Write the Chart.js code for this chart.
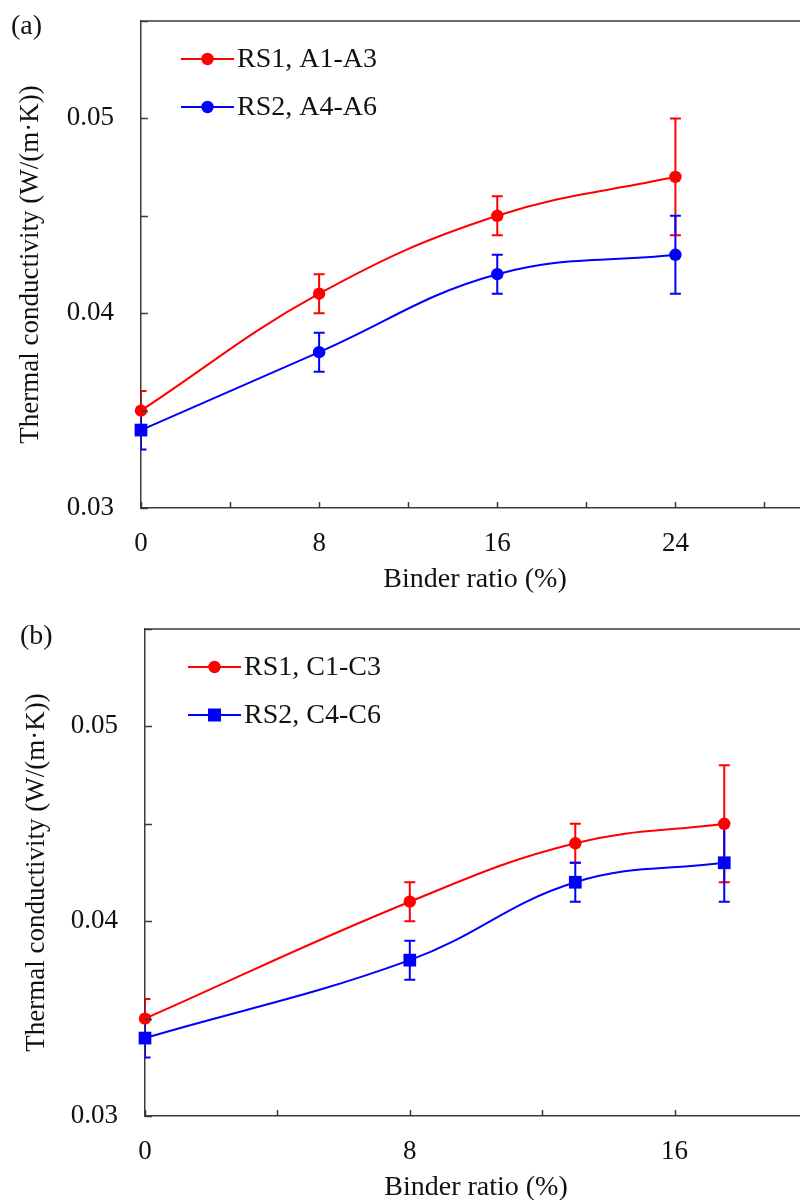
<!DOCTYPE html>
<html>
<head>
<meta charset="utf-8">
<script src="https://cdn.jsdelivr.net/npm/chart.js@4.4.1/dist/chart.umd.min.js"></script>
<style>
  html, body { margin: 0; padding: 0; background: #fff; overflow: hidden; width: 800px; height: 1200px; }
  canvas { display: block; }
</style>
</head>
<body>
<canvas id="chartA" width="830" height="600"></canvas>
<canvas id="chartC" width="830" height="610"></canvas>
<script>
// ---- Panel (a): binder ratio vs thermal conductivity, A-series ----
const binderA = [0, 8, 16, 24];
const rs1A = [0.035, 0.041, 0.045, 0.047];
const rs1AErr = [0.001, 0.001, 0.001, 0.003];
const rs2A = [0.034, 0.038, 0.042, 0.043];
const rs2AErr = [0.001, 0.001, 0.001, 0.002];

// ---- Panel (b): C-series ----
const binderC = [0, 8, 13, 17.5];
const rs1C = [0.035, 0.041, 0.044, 0.045];
const rs1CErr = [0.001, 0.001, 0.001, 0.003];
const rs2C = [0.034, 0.038, 0.042, 0.043];
const rs2CErr = [0.001, 0.001, 0.001, 0.002];

// ---- Axis ticks and labels ----
const xTicksA = [0, 4, 8, 12, 16, 20, 24, 28];
const xLabelsA = ['0', '', '8', '', '16', '', '24', ''];
const xTicksC = [0, 4, 8, 12, 16, 20];
const xLabelsC = ['0', '', '8', '', '16', ''];
const yTicks = [0.03, 0.035, 0.04, 0.045, 0.05, 0.055];
const yLabels = ['0.03', '', '0.04', '', '0.05', ''];

const seriesNamesA = ['RS1, A1-A3', 'RS2, A4-A6'];
const seriesNamesC = ['RS1, C1-C3', 'RS2, C4-C6'];
const axisTitleX = 'Binder ratio (%)';
const axisTitleY = 'Thermal conductivity (W/(m\u00B7K))';

const RED = '#ff0000';
const BLUE = '#0000ff';
const INK = '#111111';
const FRAME = '#3a3a3a';
const FONT = 'Liberation Serif, "Times New Roman", serif';

const toPoints = (xs, ys) => xs.map((x, i) => ({ x: x, y: ys[i] }));

// Vertical error bars, clipped to the plot area, drawn beneath lines and markers
const errorBarPlugin = {
  id: 'errorBars',
  beforeDatasetsDraw(chart) {
    const { ctx, chartArea: a, scales: { x, y } } = chart;
    ctx.save();
    ctx.beginPath();
    ctx.rect(a.left, a.top, a.right - a.left, a.bottom - a.top);
    ctx.clip();
    chart.data.datasets.forEach(ds => {
      if (!ds.errors) return;
      ctx.strokeStyle = ds.borderColor;
      ctx.lineWidth = 2;
      ds.data.forEach((p, i) => {
        const e = ds.errors[i];
        const px = x.getPixelForValue(p.x);
        const yt = y.getPixelForValue(p.y + e);
        const yb = y.getPixelForValue(p.y - e);
        ctx.beginPath();
        ctx.moveTo(px, yt); ctx.lineTo(px, yb);
        ctx.moveTo(px - 5.5, yt); ctx.lineTo(px + 5.5, yt);
        ctx.moveTo(px - 5.5, yb); ctx.lineTo(px + 5.5, yb);
        ctx.stroke();
      });
    });
    ctx.restore();
  }
};

// Inward tick marks, top frame line, in-plot legend and panel letter
const framePlugin = {
  id: 'frame',
  afterDraw(chart, args, opts) {
    const { ctx, chartArea: a, scales: { x, y } } = chart;
    ctx.save();
    ctx.strokeStyle = FRAME;
    ctx.lineWidth = 1.5;
    ctx.beginPath();
    ctx.moveTo(a.left, a.top); ctx.lineTo(a.right + 2, a.top);
    x.ticks.forEach((t, i) => {
      const px = Math.round(x.getPixelForTick(i)) + 0.5;
      ctx.moveTo(px, a.bottom); ctx.lineTo(px, a.bottom - 6);
    });
    y.ticks.forEach((t, i) => {
      const py = Math.round(y.getPixelForTick(i)) + 0.5;
      ctx.moveTo(a.left, py); ctx.lineTo(a.left + 7, py);
    });
    ctx.stroke();

    // legend: short line with marker, then the series name
    ctx.font = '28px ' + FONT;
    ctx.textBaseline = 'middle';
    chart.data.datasets.forEach((ds, i) => {
      const lx = a.left + opts.legendX;
      const ly = a.top + opts.legendY + i * opts.legendGap;
      ctx.strokeStyle = ds.borderColor;
      ctx.lineWidth = 2;
      ctx.beginPath();
      ctx.moveTo(lx, ly); ctx.lineTo(lx + 53, ly);
      ctx.stroke();
      ctx.fillStyle = ds.borderColor;
      ctx.beginPath();
      if (opts.legendStyles[i] === 'rect') {
        ctx.rect(lx + 26.5 - 6.5, ly - 6.5, 13, 13);
      } else {
        ctx.arc(lx + 26.5, ly, 6.2, 0, Math.PI * 2);
      }
      ctx.fill();
      ctx.fillStyle = INK;
      ctx.fillText(ds.label, lx + 56, ly + 1);
    });

    ctx.font = '28px ' + FONT;
    ctx.textBaseline = 'middle';
    ctx.fillStyle = INK;
    ctx.fillText(opts.panel, opts.panelX, opts.panelY);
    ctx.restore();
  }
};

function makeChart(id, cfg) {
  const lineDataset = (label, xs, ys, errs, color, styles, radii) => ({
    label: label,
    data: toPoints(xs, ys),
    errors: errs,
    borderColor: color,
    backgroundColor: color,
    pointBackgroundColor: color,
    pointBorderColor: color,
    pointBorderWidth: 0,
    pointStyle: styles,
    pointRadius: radii,
    borderWidth: 2,
    tension: 0.4,
    clip: false
  });
  return new Chart(document.getElementById(id), {
    type: 'line',
    data: {
      datasets: [
        lineDataset(cfg.names[0], cfg.xs, cfg.s1, cfg.e1, RED, 'circle', 6.2),
        lineDataset(cfg.names[1], cfg.xs, cfg.s2, cfg.e2, BLUE, cfg.blueStyles, cfg.blueRadii)
      ]
    },
    options: {
      responsive: false,
      animation: false,
      events: [],
      layout: { padding: { top: cfg.top, right: cfg.right, left: 0, bottom: 0 } },
      plugins: {
        legend: { display: false },
        tooltip: { enabled: false },
        frame: {
          panel: cfg.panel, panelX: cfg.panelX, panelY: cfg.panelY,
          legendX: cfg.legendX, legendY: 38, legendGap: 48,
          legendStyles: cfg.legendStyles
        }
      },
      scales: {
        x: {
          type: 'linear',
          min: 0,
          max: cfg.xMax,
          afterBuildTicks: s => { s.ticks = cfg.xTicks.map(v => ({ value: v })); },
          afterFit: s => { s.height = cfg.xHeight; s.paddingLeft = 0; s.paddingRight = 0; },
          grid: { display: false },
          border: { display: true, color: FRAME, width: 1.5 },
          ticks: {
            autoSkip: false, maxRotation: 0, padding: 12,
            color: INK, font: { family: FONT, size: 27 },
            callback: (v, i) => cfg.xLabels[i]
          },
          title: {
            display: true, text: axisTitleX, color: INK,
            font: { family: FONT, size: 28 },
            padding: { top: 0, bottom: cfg.xTitlePad }
          }
        },
        y: {
          type: 'linear',
          min: 0.03,
          max: 0.055,
          afterBuildTicks: s => { s.ticks = yTicks.map(v => ({ value: v })); },
          afterFit: s => { s.width = cfg.yWidth; s.paddingTop = 0; s.paddingBottom = 0; },
          grid: { display: false },
          border: { display: true, color: FRAME, width: 1.5 },
          ticks: {
            autoSkip: false, padding: 19,
            color: INK, font: { family: FONT, size: 27 },
            callback: (v, i) => yLabels[i]
          },
          title: {
            display: true, text: axisTitleY, color: INK,
            font: { family: FONT, size: 27 },
            padding: { top: cfg.yTitlePad, bottom: 0 }
          }
        }
      }
    },
    plugins: [errorBarPlugin, framePlugin]
  });
}

makeChart('chartA', {
  names: seriesNamesA, xs: binderA,
  s1: rs1A, e1: rs1AErr, s2: rs2A, e2: rs2AErr,
  blueStyles: ['rect', 'circle', 'circle', 'circle'],
  blueRadii: [9, 6.2, 6.2, 6.2],
  legendStyles: ['circle', 'circle'],
  xTicks: xTicksA, xLabels: xLabelsA, xMax: 30,
  top: 21, right: 21, xHeight: 92, yWidth: 141,
  xTitlePad: 4, yTitlePad: 15, legendX: 40,
  panel: '(a)', panelX: 11, panelY: 27
});

makeChart('chartC', {
  names: seriesNamesC, xs: binderC,
  s1: rs1C, e1: rs1CErr, s2: rs2C, e2: rs2CErr,
  blueStyles: 'rect',
  blueRadii: 9,
  legendStyles: ['circle', 'rect'],
  xTicks: xTicksC, xLabels: xLabelsC, xMax: 20,
  top: 29, right: 23, xHeight: 94, yWidth: 145,
  xTitlePad: 6, yTitlePad: 21, legendX: 43,
  panel: '(b)', panelX: 20, panelY: 37
});
</script>
</body>
</html>
